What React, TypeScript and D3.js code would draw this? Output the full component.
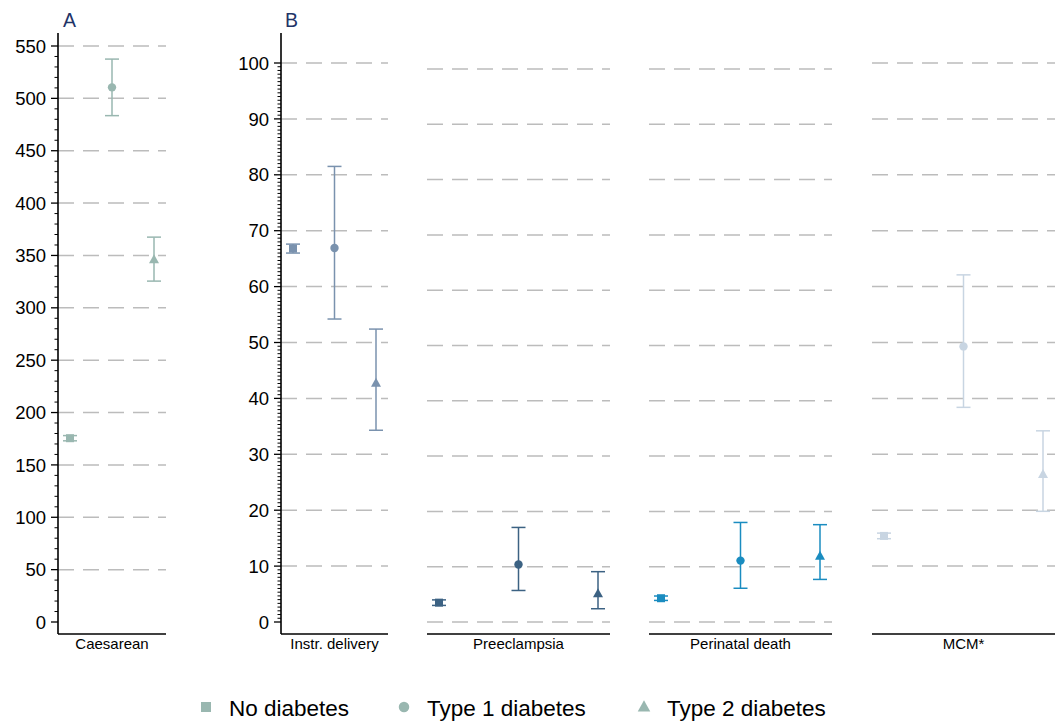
import React from 'react';
import * as d3 from 'd3';

// outcomes (one panel each) and groups (one marker each)
const categories = ['Caesarean', 'Instr. delivery', 'Preeclampsia', 'Perinatal death', 'MCM*'];
const groups = ['No diabetes', 'Type 1 diabetes', 'Type 2 diabetes'];

// point estimates and 95% CI per outcome, one array per group
const noDiab = [175.5, 66.8, 3.5, 4.3, 15.4];
const noDiabLo = [173, 66.0, 3.0, 3.9, 14.9];
const noDiabHi = [178, 67.6, 4.0, 4.7, 15.9];
const type1 = [510.5, 66.9, 10.4, 11.1, 49.3];
const type1Lo = [483.5, 54.2, 5.7, 6.1, 38.4];
const type1Hi = [537.5, 81.5, 17.1, 18.0, 62.1];
const type2 = [346, 42.7, 5.1, 11.9, 26.4];
const type2Lo = [325.5, 34.3, 2.4, 7.7, 19.8];
const type2Hi = [367.5, 52.4, 9.1, 17.6, 34.2];

const ticksA = [0, 50, 100, 150, 200, 250, 300, 350, 400, 450, 500, 550];
const ticksB = [0, 10, 20, 30, 40, 50, 60, 70, 80, 90, 100];

const colors = ['#99b7b0', '#7a92ae', '#3c6283', '#1a8cc0', '#c8d5e2'];
const FONT = '"Liberation Sans", Arial, Helvetica, sans-serif';

// panel layout
const panels = [
  { x0: 58, x1: 166 },
  { x0: 281, x1: 388 },
  { x0: 427, x1: 610 },
  { x0: 649, x1: 832 },
  { x0: 872, x1: 1055 },
];
const axisY = 634;

const yA = d3.scaleLinear().domain([0, 550]).range([622, 46]);
const yB = d3.scaleLinear().domain([0, 100]).range([622, 63]);
const yB2 = d3.scaleLinear().domain([0, 100]).range([622, 69]);
const panelY = [yA, yB, yB2, yB2, yB];
const gridVals = [
  ticksA.slice(1),
  ticksB.slice(1),
  ticksB,
  ticksB,
  ticksB.slice(1),
];

const series = [
  { est: noDiab, lo: noDiabLo, hi: noDiabHi },
  { est: type1, lo: type1Lo, hi: type1Hi },
  { est: type2, lo: type2Lo, hi: type2Hi },
];

const Marker = ({ i, x, y, color, s = 1 }: { i: number; x: number; y: number; color: string; s?: number }) => {
  if (i === 0) return <rect x={x - 4 * s} y={y - 4 * s} width={8 * s} height={8 * s} fill={color} />;
  if (i === 1) return <circle cx={x} cy={y} r={4.2 * s} fill={color} />;
  return <path d={`M${x},${y - 5.5 * s}L${x + 5 * s},${y + 3.5 * s}L${x - 5 * s},${y + 3.5 * s}Z`} fill={color} />;
};

const YAxis = ({ x, scale, ticks, minor }: { x: number; scale: any; ticks: number[]; minor: number[] }) => (
  <g>
    <line x1={x} x2={x} y1={33} y2={axisY} stroke="#000" strokeWidth={1.6} />
    {minor.map((v, k) => (
      <line key={'m' + k} x1={x - 3.5} x2={x} y1={scale(v)} y2={scale(v)} stroke="#000" strokeWidth={1} />
    ))}
    {ticks.map((v) => (
      <g key={v}>
        <line x1={x - 7} x2={x} y1={scale(v)} y2={scale(v)} stroke="#000" strokeWidth={1.3} />
        <text x={x - 12} y={scale(v)} dy="0.36em" textAnchor="end" fontSize={18.5} fontFamily={FONT} fill="#000">
          {v}
        </text>
      </g>
    ))}
  </g>
);

export default function App() {
  const minorA = d3.range(0, 551, 10).filter((v) => v % 50 !== 0);
  const minorB = d3.range(0, 15 * 10 + 1).map((k) => (k * 10) / 15).filter((_, k) => k % 15 !== 0);

  const legendX = [206, 404, 644];

  return (
    <svg width={1055} height={721} style={{ position: 'absolute', left: 0, top: 0, background: '#fff' }}>
      <rect width={1055} height={721} fill="#fff" />
      <text x={63} y={27} fontSize={19.5} fontFamily={FONT} fill="#1f3468">A</text>
      <text x={285} y={27} fontSize={19.5} fontFamily={FONT} fill="#1f3468">B</text>

      {categories.map((cat, c) => {
        const p = panels[c];
        const y = panelY[c];
        const x = d3.scalePoint<string>().domain(groups).range([p.x0 + 12, p.x1 - 12]);
        const color = colors[c];
        return (
          <g key={cat}>
            {gridVals[c].map((v) => (
              <line key={v} x1={p.x0} x2={p.x1} y1={y(v)} y2={y(v)} stroke="#bcbcbc" strokeWidth={1.5} strokeDasharray="16 9" />
            ))}
            <line x1={p.x0} x2={p.x1} y1={axisY} y2={axisY} stroke="#000" strokeWidth={1.6} />
            <text x={(p.x0 + p.x1) / 2} y={649} textAnchor="middle" fontSize={15} fontFamily={FONT} fill="#000">
              {cat}
            </text>
            {series.map((s, g) => {
              const cx = x(groups[g]) as number;
              return (
                <g key={g}>
                  <line x1={cx} x2={cx} y1={y(s.lo[c])} y2={y(s.hi[c])} stroke={color} strokeWidth={1.5} />
                  <line x1={cx - 7} x2={cx + 7} y1={y(s.lo[c])} y2={y(s.lo[c])} stroke={color} strokeWidth={1.5} />
                  <line x1={cx - 7} x2={cx + 7} y1={y(s.hi[c])} y2={y(s.hi[c])} stroke={color} strokeWidth={1.5} />
                  <Marker i={g} x={cx} y={y(s.est[c])} color={color} />
                </g>
              );
            })}
          </g>
        );
      })}

      <YAxis x={58} scale={yA} ticks={ticksA} minor={minorA} />
      <YAxis x={281} scale={yB} ticks={ticksB} minor={minorB} />

      {groups.map((gName, g) => (
        <g key={gName}>
          <Marker i={g} x={legendX[g]} y={707} color={colors[0]} s={1.25} />
          <text x={legendX[g] + 23} y={715.5} fontSize={22.5} fontFamily={FONT} fill="#000">
            {gName}
          </text>
        </g>
      ))}
    </svg>
  );
}
